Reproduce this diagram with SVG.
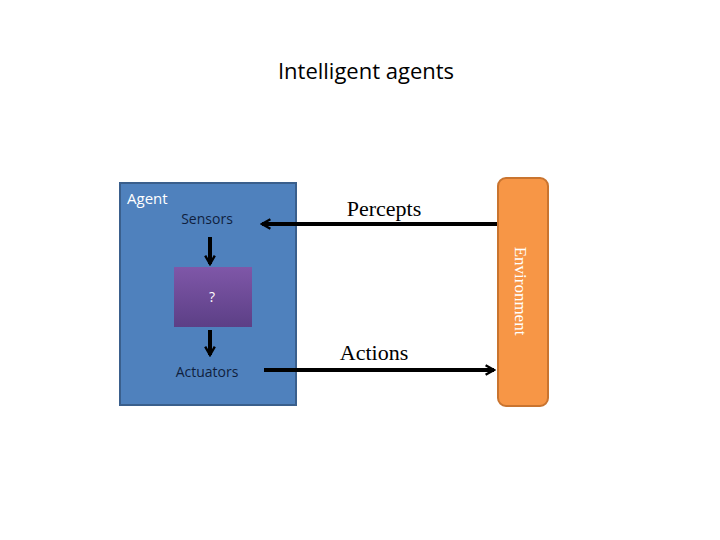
<svg xmlns="http://www.w3.org/2000/svg" width="720" height="540" viewBox="0 0 720 540">
<style>
.c{font-family:"Open Sans","Liberation Sans",sans-serif}
.t{font-family:"Liberation Serif",serif;font-size:22px;fill:#000}
.ln{stroke:#000;stroke-width:4;fill:none}
</style>
<defs>
<marker id="ah" viewBox="0 0 10 10" refX="8" refY="5" markerWidth="3" markerHeight="3" orient="auto"><path d="M1,1 L8,5 L1,9" fill="none" stroke="#000" stroke-width="2"/></marker>
<linearGradient id="pg" x1="0" y1="0" x2="0" y2="1"><stop offset="0" stop-color="#7f57a8"/><stop offset="1" stop-color="#5c3f86"/></linearGradient>
</defs>
<rect width="720" height="540" fill="#fff"/>
<text x="366" y="79" text-anchor="middle" class="c" font-size="22" fill="#000">Intelligent agents</text>
<g id="agent">
<rect x="120" y="183" width="176" height="222" fill="#4f81bd" stroke="#3a5f8c" stroke-width="2"/>
<text x="127" y="204" class="c" font-size="15" fill="#fff">Agent</text>
</g>
<g id="sensors"><text x="207" y="224" text-anchor="middle" class="c" font-size="14" fill="#0f1f3d">Sensors</text></g>
<g id="process">
<rect x="174" y="267" width="78" height="60" fill="url(#pg)"/>
<text x="212" y="302" text-anchor="middle" class="c" font-size="14" fill="#fff">?</text>
</g>
<g id="actuators"><text x="207" y="377" text-anchor="middle" class="c" font-size="14" fill="#0f1f3d">Actuators</text></g>
<g id="environment">
<rect x="498" y="178" width="50" height="228" rx="8" fill="#f79646" stroke="#c9742f" stroke-width="2"/>
<text transform="translate(515,291) rotate(90)" text-anchor="middle" font-family="Liberation Serif,serif" font-size="17" fill="#fff">Environment</text>
</g>
<g id="connectors">
<line class="ln" x1="497" y1="224" x2="262" y2="224" marker-end="url(#ah)"/>
<line class="ln" x1="264" y1="370" x2="494" y2="370" marker-end="url(#ah)"/>
<line class="ln" x1="210" y1="237" x2="210" y2="264" marker-end="url(#ah)"/>
<line class="ln" x1="210" y1="330" x2="210" y2="355" marker-end="url(#ah)"/>
<text x="384" y="216" text-anchor="middle" class="t">Percepts</text>
<text x="374" y="360" text-anchor="middle" class="t">Actions</text>
</g>
</svg>
